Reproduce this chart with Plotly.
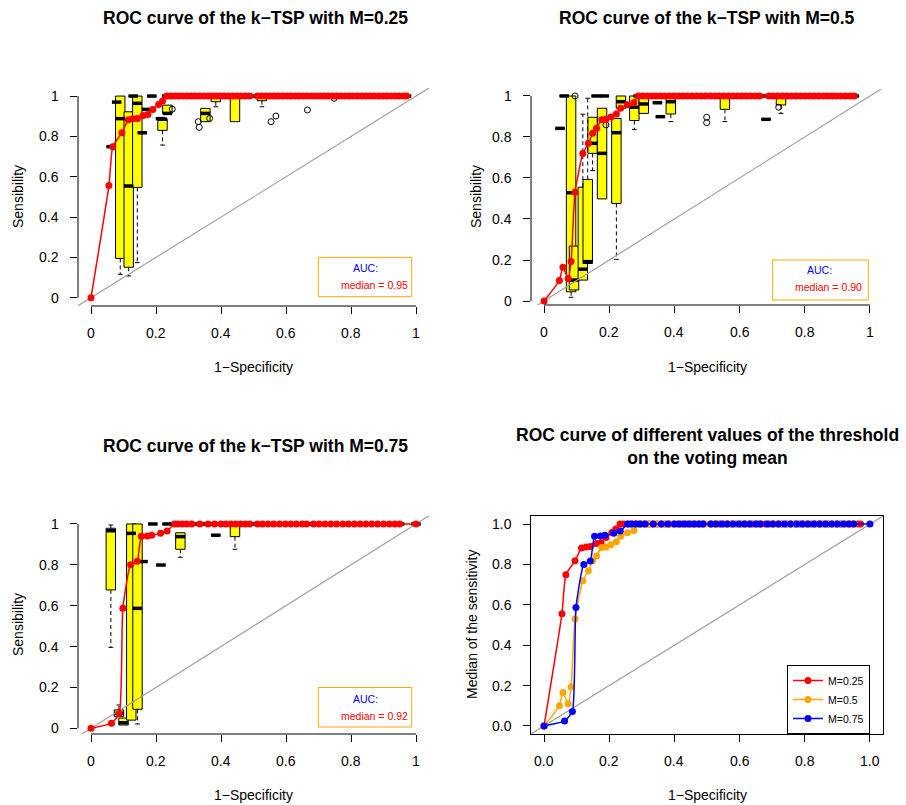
import plotly.graph_objects as go

W, H = 906, 805
FONT = "Liberation Sans, Arial, Helvetica, sans-serif"
BOX_W = 0.029

# ---------------- data ----------------
tick_vals = [0, 0.2, 0.4, 0.6, 0.8, 1]
tick_text_a = ["0", "0.2", "0.4", "0.6", "0.8", "1"]
tick_text_b = ["0.0", "0.2", "0.4", "0.6", "0.8", "1.0"]

# median ROC points, M = 0.25
fpr_025 = [0, 0.055, 0.067, 0.095, 0.115, 0.129, 0.143, 0.16, 0.175, 0.19, 0.208, 0.22, 0.233,
           0.245, 0.258, 0.27, 0.283, 0.296, 0.309, 0.321, 0.334, 0.347, 0.36, 0.372, 0.385,
           0.398, 0.41, 0.423, 0.436, 0.449, 0.462, 0.475, 0.488, 0.512, 0.525, 0.538, 0.551,
           0.563, 0.576, 0.589, 0.602, 0.615, 0.628, 0.64, 0.653, 0.666, 0.679, 0.692, 0.705,
           0.718, 0.73, 0.743, 0.756, 0.769, 0.782, 0.795, 0.807, 0.82, 0.833, 0.846, 0.859,
           0.872, 0.885, 0.897, 0.91, 0.923, 0.936, 0.949, 0.962, 0.971]
sens_025 = [0, 0.556, 0.749, 0.818, 0.882, 0.887, 0.889, 0.904, 0.908, 0.934, 0.958, 0.975, 1.0,
            1, 1, 1, 1, 1, 1, 1, 1, 1, 1, 1, 1,
            1, 1, 1, 1, 1, 1, 1, 1, 1, 1, 1, 1,
            1, 1, 1, 1, 1, 1, 1, 1, 1, 1, 1, 1,
            1, 1, 1, 1, 1, 1, 1, 1, 1, 1, 1, 1,
            1, 1, 1, 1, 1, 1, 1, 1, 1]

# median ROC points, M = 0.5
fpr_05 = [0, 0.047, 0.058, 0.074, 0.083, 0.095, 0.119, 0.136, 0.149, 0.161, 0.177, 0.19, 0.205,
          0.222, 0.235, 0.256, 0.276, 0.289,
          0.302, 0.316, 0.33, 0.343, 0.357, 0.371, 0.385, 0.399, 0.413, 0.426, 0.44, 0.454,
          0.468, 0.482, 0.496, 0.51, 0.524, 0.537, 0.551, 0.565, 0.579, 0.593, 0.607, 0.62,
          0.634, 0.648, 0.662, 0.69, 0.703, 0.717, 0.731, 0.745, 0.759, 0.773, 0.787, 0.8,
          0.814, 0.828, 0.842, 0.856, 0.87, 0.884, 0.897, 0.911, 0.925, 0.939, 0.952]
sens_05 = [0, 0.1, 0.165, 0.11, 0.193, 0.53, 0.719, 0.769, 0.818, 0.842, 0.884, 0.886, 0.897,
           0.912, 0.94, 0.957, 0.968, 1.0,
           1, 1, 1, 1, 1, 1, 1, 1, 1, 1, 1, 1,
           1, 1, 1, 1, 1, 1, 1, 1, 1, 1, 1, 1,
           1, 1, 1, 1, 1, 1, 1, 1, 1, 1, 1, 1,
           1, 1, 1, 1, 1, 1, 1, 1, 1, 1, 1]

# median ROC points, M = 0.75
fpr_075 = [0, 0.063, 0.087, 0.098, 0.122, 0.142, 0.155, 0.173, 0.187, 0.214, 0.234, 0.257,
           0.268, 0.281, 0.294, 0.31, 0.335, 0.36, 0.38, 0.4, 0.415, 0.43, 0.445, 0.46, 0.475,
           0.488, 0.512, 0.528, 0.545, 0.562, 0.58, 0.598, 0.615, 0.632, 0.65, 0.663, 0.685,
           0.702, 0.72, 0.738, 0.756, 0.775, 0.792, 0.81, 0.828, 0.846, 0.864, 0.882, 0.9,
           0.918, 0.935, 0.95, 1.0]
sens_075 = [0, 0.025, 0.072, 0.587, 0.8, 0.817, 0.94, 0.941, 0.945, 0.954, 0.966, 1.0,
            1, 1, 1, 1, 1, 1, 1, 1, 1, 1, 1, 1, 1,
            1, 1, 1, 1, 1, 1, 1, 1, 1, 1, 1, 1,
            1, 1, 1, 1, 1, 1, 1, 1, 1, 1, 1, 1,
            1, 1, 1, 1]

# boxplots of sensitivity, M = 0.25
bx025_pos = [0.062, 0.079, 0.09, 0.116, 0.13, 0.1425, 0.158, 0.171, 0.187, 0.214, 0.22, 0.235, 0.352, 0.384, 0.443, 0.526]
bx025_lo = [0.749, 0.97, 0.116, 0.108, 1.0, 0.174, 0.818, 0.934, 1.0, 0.888, 0.757, 0.914, 0.873, 0.947, 0.873, 0.947]
bx025_q1 = [0.749, 0.97, 0.195, 0.151, 1.0, 0.547, 0.818, 0.934, 1.0, 0.888, 0.83, 0.914, 0.873, 0.972, 0.873, 0.977]
bx025_med = [0.749, 0.97, 0.888, 0.554, 1.0, 0.964, 0.818, 0.934, 1.0, 0.888, 0.885, 0.914, 0.914, 1.0, 1.0, 1.0]
bx025_q3 = [0.749, 0.97, 1.0, 0.922, 1.0, 1.0, 0.818, 0.934, 1.0, 0.888, 0.885, 0.955, 0.939, 1.0, 1.0, 1.0]
bx025_hi = [0.749, 0.97, 1.0, 0.922, 1.0, 1.0, 0.818, 0.934, 1.0, 0.888, 0.885, 0.955, 0.939, 1.0, 1.0, 1.0]
out025_x = [0.25, 0.33, 0.333, 0.365, 0.554, 0.569, 0.666, 0.748]
out025_y = [0.935, 0.873, 0.845, 0.889, 0.873, 0.901, 0.931, 0.989]

# boxplots of sensitivity, M = 0.5
bx05_pos = [0.049, 0.062, 0.083, 0.092, 0.119, 0.134, 0.149, 0.16, 0.178, 0.185, 0.222, 0.236, 0.277, 0.306, 0.348, 0.357, 0.389, 0.555, 0.681, 0.727]
bx05_lo = [0.842, 1.0, 0.018, 0.054, 0.102, 0.183, 0.636, 1.0, 0.498, 1.0, 0.203, 0.94, 0.837, 0.915, 0.967, 0.899, 0.875, 0.875, 0.886, 0.915]
bx05_q1 = [0.842, 1.0, 0.045, 0.054, 0.102, 0.183, 0.72, 1.0, 0.498, 1.0, 0.476, 0.94, 0.88, 0.915, 0.967, 0.899, 0.912, 0.935, 0.886, 0.956]
bx05_med = [0.842, 1.0, 0.528, 0.102, 0.155, 0.192, 0.769, 1.0, 0.72, 1.0, 0.821, 0.972, 0.945, 0.961, 0.967, 0.899, 0.972, 1.0, 0.886, 1.0]
bx05_q3 = [0.842, 1.0, 1.0, 0.268, 0.555, 0.593, 0.896, 1.0, 0.94, 1.0, 0.89, 1.0, 1.0, 1.0, 0.967, 0.899, 1.0, 1.0, 0.886, 1.0]
bx05_hi = [0.842, 1.0, 1.0, 0.268, 0.911, 0.989, 0.896, 1.0, 0.94, 1.0, 0.89, 1.0, 1.0, 1.0, 0.967, 0.899, 1.0, 1.0, 0.886, 1.0]
out05_x = [0.095, 0.19, 0.499, 0.499, 0.72]
out05_y = [1.0, 0.859, 0.896, 0.87, 0.945]

# boxplots of sensitivity, M = 0.75
bx075_pos = [0.061, 0.086, 0.1, 0.124, 0.143, 0.16, 0.19, 0.215, 0.234, 0.275, 0.384, 0.443]
bx075_lo = [0.396, 0.057, 0.016, 0.04, 0.021, 0.816, 1.0, 0.799, 1.0, 0.837, 0.945, 0.876]
bx075_q1 = [0.677, 0.057, 0.016, 0.04, 0.093, 0.816, 1.0, 0.799, 1.0, 0.876, 0.945, 0.938]
bx075_med = [0.967, 0.073, 0.027, 0.954, 0.587, 0.816, 1.0, 0.799, 1.0, 0.938, 0.945, 1.0]
bx075_q3 = [0.979, 0.09, 0.05, 1.0, 1.0, 0.816, 1.0, 0.799, 1.0, 0.957, 0.945, 1.0]
bx075_hi = [0.995, 0.114, 0.05, 1.0, 1.0, 0.816, 1.0, 0.799, 1.0, 0.957, 0.945, 1.0]
out075_x = []
out075_y = []

auc_medians = ["0.95", "0.90", "0.92"]
m_labels = ["M=0.25", "M=0.5", "M=0.75"]
m_colors = ["#FF0000", "#FFA500", "#0000FF"]

# ---------------- layout helpers ----------------
def dom_x(a, b):
    return [a / W, b / W]

def dom_y(top, bottom):
    return [1 - bottom / H, 1 - top / H]

def px(x):
    return x / W

def py(y):
    return 1 - y / H

panels = [
    dict(xd=(78, 429), yd=(88, 306), xr=[-0.04, 1.04], yr=[-0.041, 1.04]),
    dict(xd=(531, 883), yd=(89, 305), xr=[-0.04, 1.04], yr=[-0.0195, 1.034]),
    dict(xd=(78, 429), yd=(516, 734), xr=[-0.04, 1.04], yr=[-0.028, 1.039]),
    dict(xd=(531, 883), yd=(516, 734), xr=[-0.04, 1.04], yr=[-0.04, 1.04]),
]

fig = go.Figure()
layout = dict(width=W, height=H, margin=dict(l=0, r=0, t=0, b=0),
              paper_bgcolor="white", plot_bgcolor="white", showlegend=True,
              barmode="overlay", font=dict(family=FONT, size=14, color="black"))
shapes = []
annotations = []

for i, p in enumerate(panels):
    n = "" if i == 0 else str(i + 1)
    boxed = (i == 3)
    layout["xaxis" + n] = dict(domain=dom_x(*p["xd"]), range=p["xr"], anchor="y" + n,
                               showgrid=False, zeroline=False, showline=boxed, mirror=boxed,
                               linecolor="black", linewidth=1,
                               ticks="outside", ticklen=7, tickcolor="black", tickwidth=1,
                               tickmode="array", tickvals=tick_vals, showticklabels=False,
                               fixedrange=True)
    layout["yaxis" + n] = dict(domain=dom_y(*p["yd"]), range=p["yr"], anchor="x" + n,
                               showgrid=False, zeroline=False, showline=boxed, mirror=boxed,
                               linecolor="black", linewidth=1,
                               ticks="outside", ticklen=7, tickcolor="black", tickwidth=1,
                               tickmode="array", tickvals=tick_vals, showticklabels=False,
                               fixedrange=True)
    if not boxed:
        shapes.append(dict(type="line", xref="x" + n + " domain", yref="y" + n, x0=0, x1=0, y0=0, y1=1,
                           line=dict(color="black", width=1)))
        shapes.append(dict(type="line", xref="x" + n, yref="y" + n + " domain", x0=0, x1=1, y0=0, y1=0,
                           line=dict(color="black", width=1)))
    # tick labels placed through the axes' own data coordinates
    texts = tick_text_b if boxed else tick_text_a
    lab_y = p["yd"][1] + 26.5
    lab_x = p["xd"][0] - 17
    for v, t in zip(tick_vals, texts):
        annotations.append(dict(x=v, xref="x" + n, y=py(lab_y), yref="paper", text=t, showarrow=False,
                                xanchor="center", yanchor="middle", font=dict(family=FONT, size=14)))
        annotations.append(dict(x=px(lab_x), xref="paper", y=v, yref="y" + n, text=t, showarrow=False,
                                xanchor="right", yanchor="middle", font=dict(family=FONT, size=14)))

# ---------------- traces ----------------
def add_diag(n):
    fig.add_trace(go.Scatter(x=[-0.2, 1.2], y=[-0.2, 1.2], mode="lines",
                             line=dict(color="#a0a0a0", width=1.2),
                             xaxis="x" + n, yaxis="y" + n, showlegend=False, hoverinfo="skip"))

def add_boxes(n, pos, lo, q1, med, q3, hi, ox, oy, fpr, sens):
    xa, ya = "x" + n, "y" + n
    wx, wy, cx, cy = [], [], [], []
    for pp, l, a, b, h in zip(pos, lo, q1, q3, hi):
        if h > b:
            wx += [pp, pp, None]; wy += [b, h, None]
            cx += [pp - BOX_W / 4, pp + BOX_W / 4, None]; cy += [h, h, None]
        if l < a:
            wx += [pp, pp, None]; wy += [a, l, None]
            cx += [pp - BOX_W / 4, pp + BOX_W / 4, None]; cy += [l, l, None]
    fig.add_trace(go.Scatter(x=wx, y=wy, mode="lines", line=dict(color="black", width=1, dash="4px,3px"),
                             xaxis=xa, yaxis=ya, showlegend=False, hoverinfo="skip"))
    fig.add_trace(go.Scatter(x=cx, y=cy, mode="lines", line=dict(color="black", width=1),
                             xaxis=xa, yaxis=ya, showlegend=False, hoverinfo="skip"))
    fig.add_trace(go.Bar(x=pos, y=[b - a for a, b in zip(q1, q3)], base=q1, width=BOX_W,
                         marker=dict(color="#FFFF00", line=dict(color="black", width=1)),
                         xaxis=xa, yaxis=ya, showlegend=False, hoverinfo="skip"))
    mx, my = [], []
    allpos = list(pos) + [f for f, s in zip(fpr, sens) if s == 1]
    allmed = list(med) + [s for s in sens if s == 1]
    for pp, m in zip(allpos, allmed):
        mx += [pp - BOX_W / 2, pp + BOX_W / 2, None]; my += [m, m, None]
    fig.add_trace(go.Scatter(x=mx, y=my, mode="lines", line=dict(color="black", width=3.5),
                             xaxis=xa, yaxis=ya, showlegend=False, hoverinfo="skip"))
    if ox:
        fig.add_trace(go.Scatter(x=ox, y=oy, mode="markers",
                                 marker=dict(symbol="circle-open", size=6, color="black", line=dict(width=1)),
                                 xaxis=xa, yaxis=ya, showlegend=False, hoverinfo="skip"))

def add_roc(n, fpr, sens, color, name, legend):
    fig.add_trace(go.Scatter(x=fpr, y=sens, mode="lines+markers", name=name,
                             line=dict(color=color, width=1.5, shape="spline", smoothing=0.5),
                             marker=dict(color=color, size=7),
                             xaxis="x" + n, yaxis="y" + n, showlegend=legend))

panel_data = [
    ("", bx025_pos, bx025_lo, bx025_q1, bx025_med, bx025_q3, bx025_hi, out025_x, out025_y, fpr_025, sens_025),
    ("2", bx05_pos, bx05_lo, bx05_q1, bx05_med, bx05_q3, bx05_hi, out05_x, out05_y, fpr_05, sens_05),
    ("3", bx075_pos, bx075_lo, bx075_q1, bx075_med, bx075_q3, bx075_hi, out075_x, out075_y, fpr_075, sens_075),
]
for d in panel_data:
    add_boxes(*d)
    add_diag(d[0])
    add_roc(d[0], d[9], d[10], "#FF0000", "", False)

add_diag("4")
for fpr, sens, col, name in zip([fpr_025, fpr_05, fpr_075], [sens_025, sens_05, sens_075], m_colors, m_labels):
    add_roc("4", fpr, sens, col, name, True)

# ---------------- text ----------------
def ann(x, y, text, size=14, color="black", bold=False, angle=0, xanchor="center"):
    annotations.append(dict(x=px(x), y=py(y), xref="paper", yref="paper",
                            text=("<b>%s</b>" % text) if bold else text,
                            showarrow=False, textangle=angle, xanchor=xanchor, yanchor="middle",
                            font=dict(family=FONT, size=size, color=color)))

titles = ["ROC curve of the k\u2212TSP with M=0.25", "ROC curve of the k\u2212TSP with M=0.5",
          "ROC curve of the k\u2212TSP with M=0.75"]
ann(255, 18, titles[0], 17.5, bold=True)
ann(707, 18, titles[1], 17.5, bold=True)
ann(255, 446, titles[2], 17.5, bold=True)
ann(707, 446.5, "ROC curve of different values of the threshold<br>on the voting mean", 17.5, bold=True)

ann(253.5, 366.7, "1\u2212Specificity")
ann(707, 366.7, "1\u2212Specificity")
ann(253.5, 794.7, "1\u2212Specificity")
ann(707, 794.7, "1\u2212Specificity")
ann(18, 197, "Sensibility", angle=-90)
ann(476, 197, "Sensibility", angle=-90)
ann(18, 625, "Sensibility", angle=-90)
ann(472, 625, "Median of the sensitivity", angle=-90)

auc_boxes = [((318.3, 257.3, 411.7, 296.7), 365, 268.3, 339.3, 285.0),
             ((772.7, 260.0, 868.3, 300.0), 819.3, 270.0, 793.3, 286.7),
             ((318.3, 687.5, 411.7, 727.0), 365, 698.5, 339.3, 715.5)]
for (x0, y0, x1, y1), tx, ty, mx, my_ in auc_boxes:
    shapes.append(dict(type="rect", xref="paper", yref="paper", x0=px(x0), x1=px(x1), y0=py(y1), y1=py(y0),
                       line=dict(color="#FFA500", width=1), fillcolor="white", layer="above"))
for k, ((x0, y0, x1, y1), tx, ty, mx, my_) in enumerate(auc_boxes):
    ann(tx, ty, "AUC:", 10.5, color="#0000FF")
    ann(mx, my_, "median = " + auc_medians[k], 10.5, color="#FF0000", xanchor="left")

layout["shapes"] = shapes
layout["annotations"] = annotations
layout["legend"] = dict(x=px(787), y=py(665), xanchor="left", yanchor="top", bgcolor="white",
                        bordercolor="black", borderwidth=1, font=dict(family=FONT, size=10.5),
                        itemwidth=30, tracegroupgap=0)
fig.update_layout(**layout)
fig.write_html("out.html")
